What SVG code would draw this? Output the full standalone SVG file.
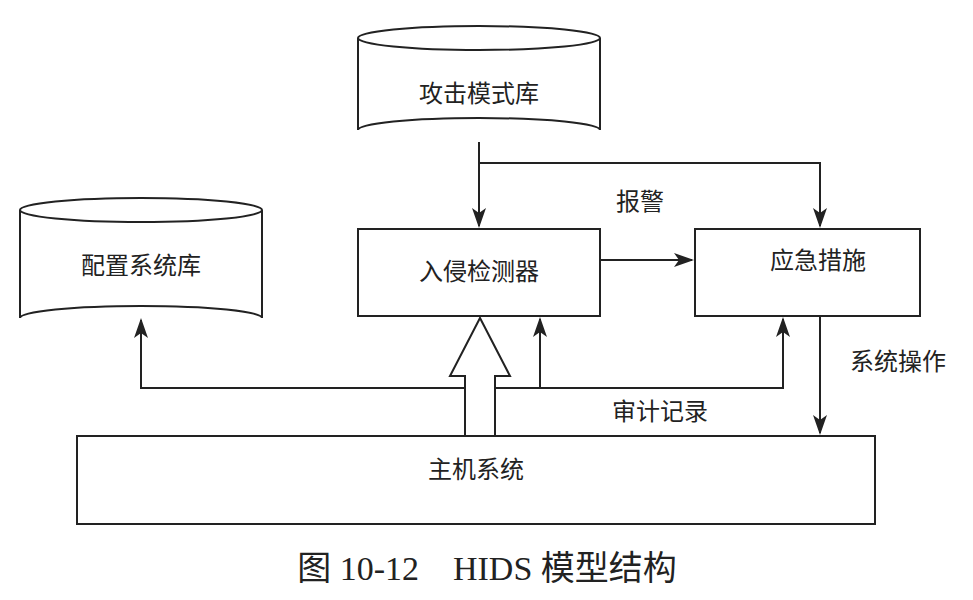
<svg xmlns="http://www.w3.org/2000/svg" width="973" height="600" viewBox="0 0 973 600">
<style>
.s{fill:none;stroke:#222;stroke-width:2}
.b{fill:#fff;stroke:#222;stroke-width:2}
.t{font-family:"Liberation Serif","Noto Sans CJK SC",serif;font-size:24px;fill:#222;text-anchor:middle}
</style>
<defs><marker id="m" viewBox="0 0 20 20" markerWidth="20" markerHeight="20" refX="18" refY="10" orient="auto" markerUnits="userSpaceOnUse"><path d="M0,3L20,10L0,17L5,10Z" fill="#222"/></marker></defs>
<rect width="973" height="600" fill="#fff"/>
<g id="attack"><path class="b" d="M358,38 A121,12 0 0 1 600,38 V130 A121,12 0 0 0 358,130 Z"/><path class="s" d="M358,38 A121,12 0 0 0 600,38"/><text class="t" x="479" y="102">攻击模式库</text></g>
<g id="config"><path class="b" d="M20,210 A121,12 0 0 1 262,210 V318 A121,12 0 0 0 20,318 Z"/><path class="s" d="M20,210 A121,12 0 0 0 262,210"/><text class="t" x="141" y="274">配置系统库</text></g>
<g id="ids"><rect class="b" x="358" y="229" width="242" height="87"/><text class="t" x="479" y="280">入侵检测器</text></g>
<g id="resp"><rect class="b" x="695" y="229" width="225" height="87"/><text class="t" x="818" y="269">应急措施</text></g>
<g id="host"><rect class="b" x="77" y="436" width="798" height="88"/><text class="t" x="476" y="478">主机系统</text></g>
<g id="edges">
<path class="s" d="M479,142V226" marker-end="url(#m)"/>
<path class="s" d="M479,163H820V226" marker-end="url(#m)"/>
<path class="s" d="M600,260H692" marker-end="url(#m)"/>
<path class="s" d="M465,388H141V320" marker-end="url(#m)"/>
<path class="s" d="M495,388H783V319" marker-end="url(#m)"/>
<path class="s" d="M540,388V319" marker-end="url(#m)"/>
<path class="s" d="M820,316V433" marker-end="url(#m)"/>
<path class="b" d="M465,436V376H450L480,318L510,376H495V436Z"/>
</g>
<text class="t" x="640" y="210">报警</text>
<text class="t" x="898" y="370">系统操作</text>
<text class="t" x="660" y="420">审计记录</text>
<text class="t" x="487" y="580" style="font-size:34px">图 10-12　HIDS 模型结构</text>
</svg>
